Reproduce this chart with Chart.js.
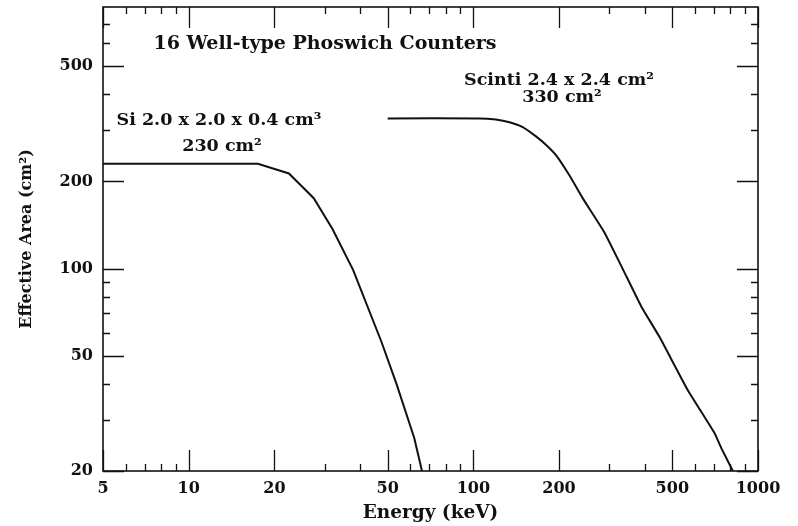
<!DOCTYPE html>
<html>
<head>
<meta charset="utf-8">
<script src="https://cdn.jsdelivr.net/npm/chart.js@4.4.1/dist/chart.umd.min.js"></script>
<style>
  html, body { margin: 0; padding: 0; background: #fff; }
  #wrap { width: 798px; height: 526px; }
</style>
</head>
<body>
<div id="wrap"><canvas id="chart" width="798" height="526"></canvas></div>
<script>
// ─── Données ──────────────────────────────────────────────────────────────
const siEnergy     = [5, 17.5, 22.5, 27.5, 32, 37.8, 47.5, 53.7, 62, 66];
const siArea       = [230, 230, 213, 175, 137, 99, 56, 40, 26, 20];

const scintiEnergy = [50, 105, 120, 134, 149, 166, 181, 196, 218, 243, 289, 336, 389, 451, 567, 704, 743, 816];
const scintiArea   = [330, 330, 327, 320, 308, 286, 266, 245, 209, 174, 133, 99, 74, 58, 38, 27, 24, 20];

// Axes
const xRange       = [5, 1000];
const yRange       = [20, 800];
const xTickLabels  = [5, 10, 20, 50, 100, 200, 500, 1000];
const yTickLabels  = [20, 50, 100, 200, 500];
const xMinorTicks  = [6, 7, 8, 9, 30, 40, 60, 70, 80, 90, 300, 400, 600, 700, 800, 900];
const yMinorTicks  = [30, 40, 60, 70, 80, 90, 300, 400, 600, 700];

const FAMILY = '"DejaVu Serif", "Liberation Serif", serif';
const INK    = '#111';

// ─── Ticks intérieurs + cadre + annotations ──────────────────────────────
const MAJOR = 21;
const MINOR = 7;

const notes = [
  { text: '16 Well-type Phoswich Counters', x: 325, y: 44,  size: 19 },
  { text: 'Si 2.0 x 2.0 x 0.4 cm³',        x: 219, y: 120, size: 17.5 },
  { text: '230 cm²',                        x: 222, y: 146, size: 17.5 },
  { text: 'Scinti 2.4 x 2.4 cm²',           x: 559, y: 80,  size: 17.5 },
  { text: '330 cm²',                        x: 562, y: 97,  size: 17.5 },
];

const framePlugin = {
  id: 'frame',
  afterDatasetsDraw(chart) {
    const { ctx, chartArea: a, scales: { x, y } } = chart;
    ctx.save();
    ctx.strokeStyle = INK;
    ctx.lineWidth = 1.6;
    ctx.strokeRect(a.left, a.top, a.right - a.left, a.bottom - a.top);

    ctx.lineWidth = 1.3;
    ctx.beginPath();
    const xTick = (v, len) => {
      const px = Math.round(x.getPixelForValue(v)) + 0.5;
      ctx.moveTo(px, a.bottom); ctx.lineTo(px, a.bottom - len);
      ctx.moveTo(px, a.top);    ctx.lineTo(px, a.top + len);
    };
    const yTick = (v, len) => {
      const py = Math.round(y.getPixelForValue(v)) + 0.5;
      ctx.moveTo(a.left, py);  ctx.lineTo(a.left + len, py);
      ctx.moveTo(a.right, py); ctx.lineTo(a.right - len, py);
    };
    xTickLabels.forEach((v) => xTick(v, MAJOR));
    xMinorTicks.forEach((v) => xTick(v, MINOR));
    yTickLabels.forEach((v) => yTick(v, MAJOR));
    yMinorTicks.forEach((v) => yTick(v, MINOR));
    ctx.stroke();

    ctx.fillStyle = INK;
    ctx.textAlign = 'center';
    ctx.textBaseline = 'middle';
    notes.forEach((n) => {
      ctx.font = `bold ${n.size}px ${FAMILY}`;
      ctx.fillText(n.text, n.x, n.y);
    });
    ctx.restore();
  },
};

function pairs(xs, ys) {
  return xs.map((e, i) => ({ x: e, y: ys[i] }));
}

const tickFont = { family: FAMILY, size: 16, weight: 'bold' };

new Chart(document.getElementById('chart'), {
  type: 'line',
  data: {
    datasets: [
      {
        label: 'Si',
        data: pairs(siEnergy, siArea),
        borderColor: INK,
        borderWidth: 2,
        pointRadius: 0,
        tension: 0,
      },
      {
        label: 'Scinti',
        data: pairs(scintiEnergy, scintiArea),
        borderColor: INK,
        borderWidth: 2,
        pointRadius: 0,
        tension: 0.12,
      },
    ],
  },
  options: {
    responsive: false,
    animation: false,
    events: [],
    layout: { padding: { top: 7, right: 40, bottom: 0, left: 0 } },
    plugins: { legend: { display: false }, tooltip: { enabled: false } },
    scales: {
      x: {
        type: 'logarithmic',
        min: xRange[0], max: xRange[1],
        grid: { display: false, drawTicks: false },
        border: { display: false },
        afterBuildTicks: (s) => { s.ticks = xTickLabels.map((v) => ({ value: v })); },
        afterFit: (s) => { s.height = 55; s.paddingLeft = 0; s.paddingRight = 0; },
        ticks: {
          color: INK, font: tickFont, padding: 8,
          autoSkip: false, maxRotation: 0,
          callback: (v) => String(v),
        },
        title: {
          display: true, text: 'Energy (keV)', color: INK,
          font: { family: FAMILY, size: 18.5, weight: 'bold' },
          padding: { top: 0, bottom: 2 },
        },
      },
      y: {
        type: 'logarithmic',
        min: yRange[0], max: yRange[1],
        grid: { display: false, drawTicks: false },
        border: { display: false },
        afterBuildTicks: (s) => { s.ticks = yTickLabels.map((v) => ({ value: v })); },
        afterFit: (s) => { s.width = 103; s.paddingTop = 0; s.paddingBottom = 0; },
        ticks: {
          color: INK, font: tickFont, padding: 10,
          autoSkip: false,
          callback: (v) => String(v),
        },
        title: {
          display: true, text: 'Effective Area (cm²)', color: INK,
          font: { family: FAMILY, size: 16, weight: 'bold' },
          padding: { top: 17, bottom: 0 },
        },
      },
    },
  },
  plugins: [framePlugin],
});
</script>
</body>
</html>
